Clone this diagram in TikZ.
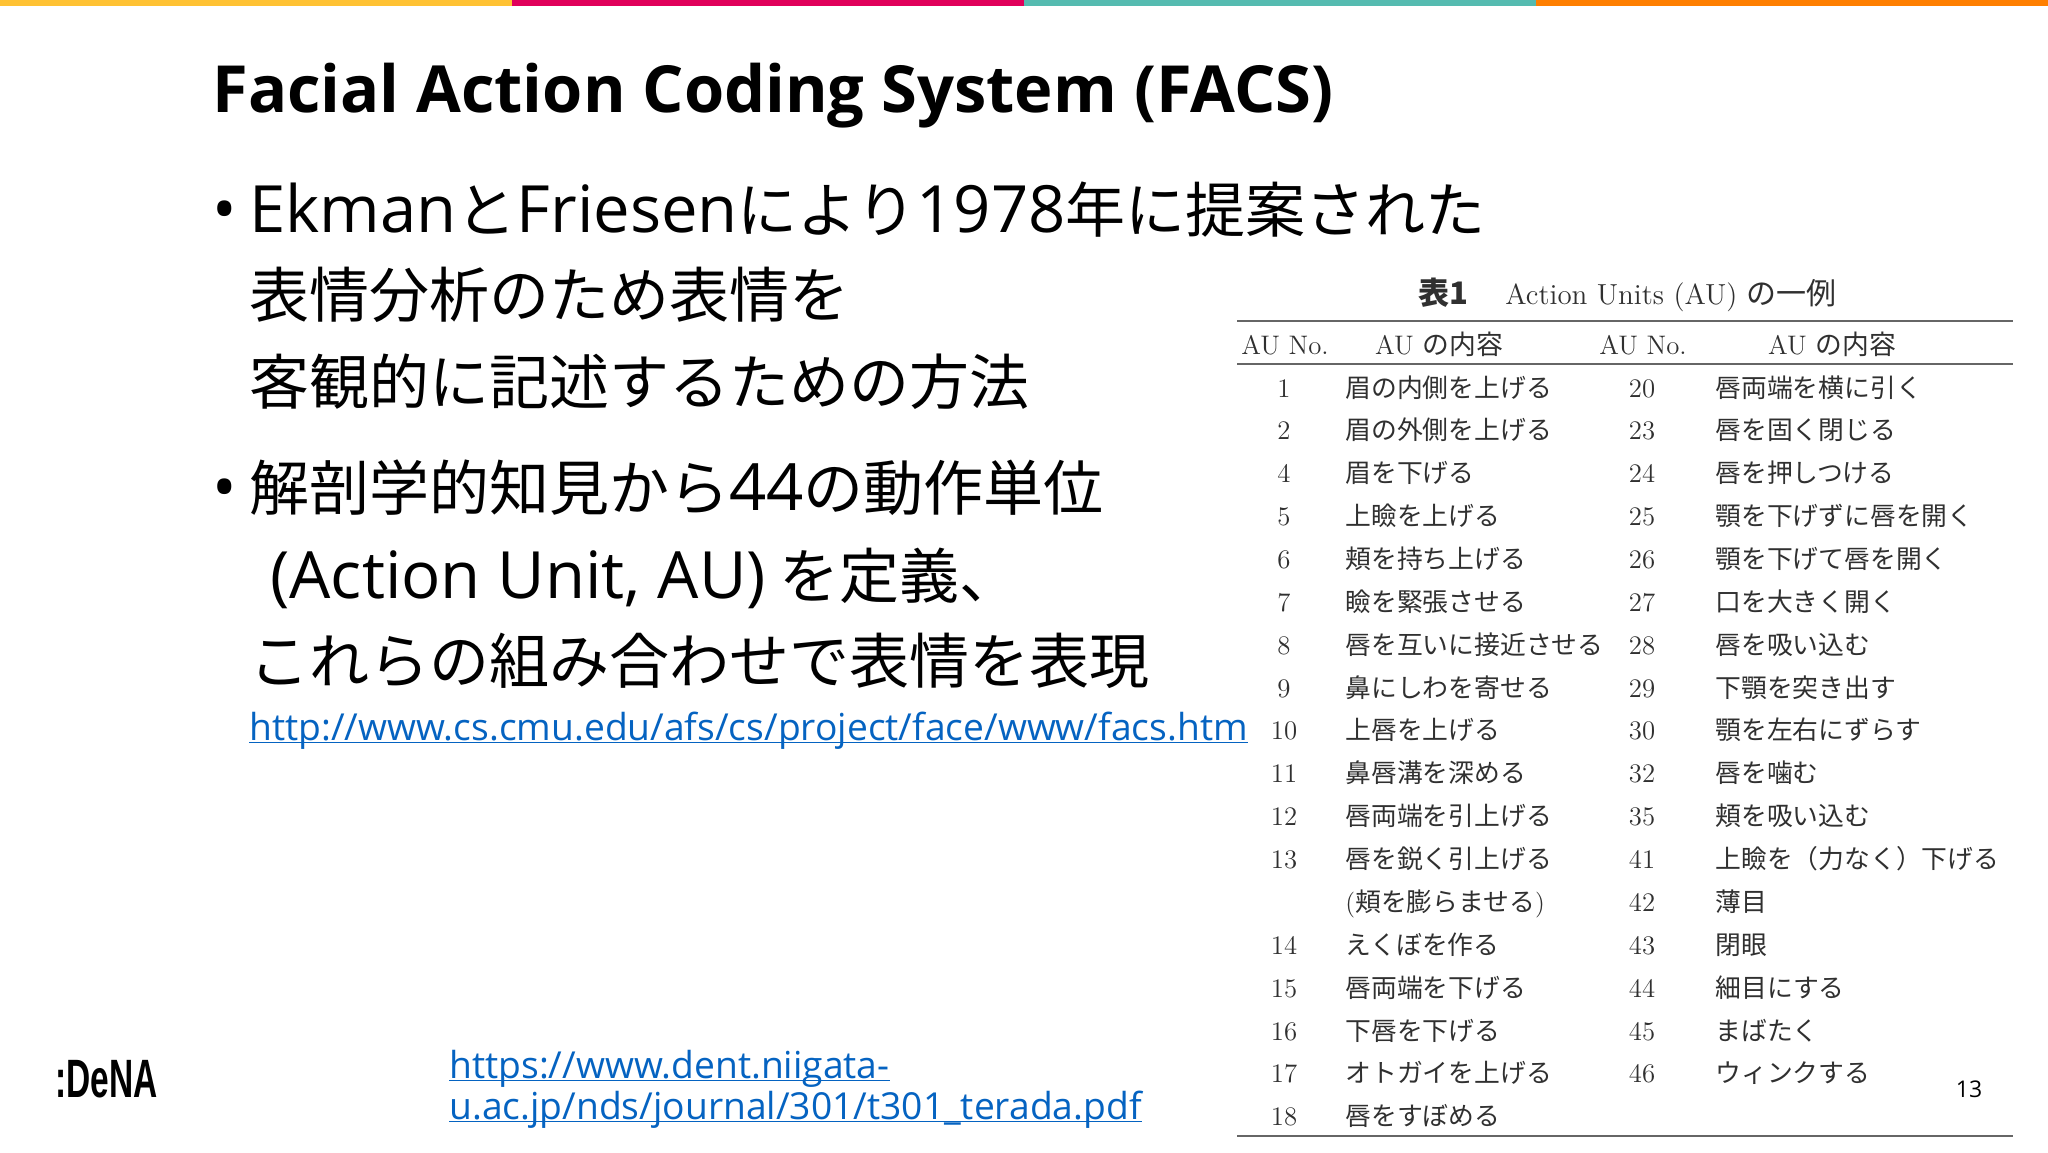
\documentclass[tikz,border=0pt]{standalone}
\usepackage{fontspec}
\usepackage{graphicx}
\newfontfamily\jpfont{Noto Sans CJK JP}
\newfontfamily\latfont{Open Sans}
\newfontfamily\logofont{Liberation Sans}
\definecolor{baryellow}{HTML}{FFC233}
\definecolor{barred}{HTML}{E0005A}
\definecolor{barteal}{HTML}{55BBB0}
\definecolor{barorange}{HTML}{FF7F00}
\definecolor{linkblue}{HTML}{0563C1}
\definecolor{tabgray}{HTML}{303030}
\newcommand{\lat}[1]{{\latfont\fontsize{32.6}{40}\selectfont #1}}
\newcommand{\jtab}{\fontsize{12.9}{15}\selectfont}
\newcommand{\ltab}{\fontsize{13.4}{15}\selectfont}
\newcommand{\ulink}[1]{\underline{\smash{#1}}}

\begin{document}
\begin{tikzpicture}[x=0.5pt, y=-0.5pt,
    title/.style = {anchor=base west, inner sep=0, font=\latfont\bfseries\fontsize{32.5}{38}\selectfont},
    body/.style = {anchor=base west, inner sep=0, font=\jpfont\fontsize{30}{40}\selectfont},
    link/.style = {anchor=base west, inner sep=0, text=linkblue, font=\latfont\fontsize{18.6}{22}\selectfont},
    tabtext/.style = {anchor=base west, inner sep=0, text=tabgray, font=\jpfont\jtab},
    tabno/.style = {anchor=base, inner sep=0, text=tabgray, font=\ltab},
    tabrule/.style = {draw=black!60, line width=1pt}]

    \useasboundingbox (0,0) rectangle (2048,1152);
    \fill[white] (0,0) rectangle (2048,1152);

    % colour bar
    \fill[baryellow] (0,0) rectangle (512,6);
    \fill[barred] (512,0) rectangle (1024,6);
    \fill[barteal] (1024,0) rectangle (1536,6);
    \fill[barorange] (1536,0) rectangle (2048,6);

    % title and bullets
    \node[title] (head) at (212,112) {Facial Action Coding System (FACS)};
    \node[body] (dot1) at (212,232) {\lat{•}};
    \node[body] (line1) at (249,232) {\lat{Ekman}と\lat{Friesen}により\lat{1978}年に提案された};
    \node[body] (line2) at (249,317) {表情分析のため表情を};
    \node[body] (line3) at (249,404) {客観的に記述するための方法};
    \node[body] (dot2) at (212,510) {\lat{•}};
    \node[body] (line4) at (249,510) {解剖学的知見から\lat{44}の動作単位};
    \node[body] (line5) at (270,598) {\lat{(Action Unit, AU)} を定義、};
    \node[body] (line6) at (249,683) {これらの組み合わせで表情を表現};

    % links
    \node[link] (url1) at (249,740) {\ulink{http://www.cs.cmu.edu/afs/cs/project/face/www/facs.htm}};
    \node[link] (url2) at (449,1078) {\ulink{https://www.dent.niigata-}};
    \node[link] (url3) at (449,1119) {\ulink{u.ac.jp/nds/journal/301/t301\_terada.pdf}};

    % table head
    \node[anchor=base west, inner sep=0, text=tabgray, font=\jpfont\bfseries\fontsize{15.5}{18}\selectfont] (cap1) at (1418,304) {表1};
    \node[tabtext] (cap2) at (1505,304) {\rmfamily\fontsize{14.5}{18}\selectfont Action Units (AU) \jpfont\fontsize{15}{18}\selectfont の一例};
    \node[tabno] (h1) at (1285,354) {AU No.};
    \node[tabno] (h2) at (1439,354) {AU \jpfont の内容};
    \node[tabno] (h3) at (1643,354) {AU No.};
    \node[tabno] (h4) at (1832,354) {AU \jpfont の内容};
    \draw[tabrule] (1237,321) -- (2013,321);
    \draw[tabrule] (1237,364) -- (2013,364);
    \draw[tabrule] (1237,1136) -- (2013,1136);

    % table rows
    \foreach \no/\txt [count=\r from 0] in {1/眉の内側を上げる, 2/眉の外側を上げる, 4/眉を下げる, 5/上瞼を上げる, 6/頬を持ち上げる, 7/瞼を緊張させる, 8/唇を互いに接近させる, 9/鼻にしわを寄せる, 10/上唇を上げる, 11/鼻唇溝を深める, 12/唇両端を引上げる, 13/唇を鋭く引上げる}{
        \pgfmathsetmacro\rowy{397+42.87*\r}
        \node[tabno] (lno\r) at (1284,\rowy) {\no};
        \node[tabtext] (ltxt\r) at (1345,\rowy) {\txt};
    }
    \node[tabtext] (ltxt12) at (1345,911.4) {{\rmfamily(}頬を膨らませる{\rmfamily)}};
    \foreach \no/\txt [count=\r from 13] in {14/えくぼを作る, 15/唇両端を下げる, 16/下唇を下げる, 17/オトガイを上げる, 18/唇をすぼめる}{
        \pgfmathsetmacro\rowy{397+42.87*\r}
        \node[tabno] (lno\r) at (1284,\rowy) {\no};
        \node[tabtext] (ltxt\r) at (1345,\rowy) {\txt};
    }
    \foreach \no/\txt [count=\r from 0] in {20/唇両端を横に引く, 23/唇を固く閉じる, 24/唇を押しつける, 25/顎を下げずに唇を開く, 26/顎を下げて唇を開く, 27/口を大きく開く, 28/唇を吸い込む, 29/下顎を突き出す, 30/顎を左右にずらす, 32/唇を噛む, 35/頬を吸い込む, 41/上瞼を（力なく）下げる, 42/薄目, 43/閉眼, 44/細目にする, 45/まばたく, 46/ウィンクする}{
        \pgfmathsetmacro\rowy{397+42.87*\r}
        \node[tabno] (rno\r) at (1642,\rowy) {\no};
        \node[tabtext] (rtxt\r) at (1715,\rowy) {\txt};
    }

    % logo and page number
    \node[anchor=base west, inner sep=0, font=\logofont\bfseries\fontsize{27}{30}\selectfont] (logo) at (55,1097) {\scalebox{0.62}[1]{:DeNA}};
    \node[anchor=base, inner sep=0, font=\latfont\fontsize{11.5}{14}\selectfont] (page) at (1969,1097) {13};

    \end{tikzpicture}
\end{document}
